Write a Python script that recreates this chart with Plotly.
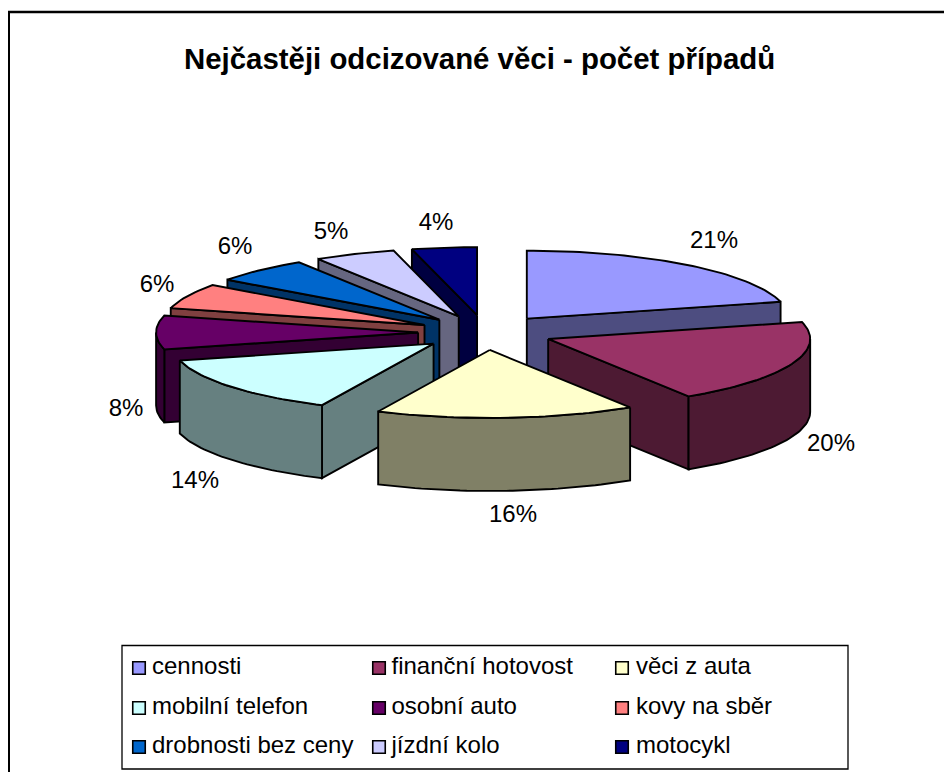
import math
import plotly.graph_objects as go

# --- data -----------------------------------------------------------------
categories = ["cennosti", "finanční hotovost", "věci z auta", "mobilní telefon",
              "osobní auto", "kovy na sběr", "drobnosti bez ceny", "jízdní kolo", "motocykl"]
values = [21, 20, 16, 14, 8, 6, 6, 5, 4]
top_colors = ["#9999FF", "#993366", "#FFFFCC", "#CCFFFF", "#660066",
              "#FF8080", "#0066CC", "#CCCCFF", "#000080"]
wall_colors = ["#4D4D80", "#4D1A33", "#808066", "#668080", "#330033",
               "#804040", "#003366", "#666680", "#000040"]
title_text = "Nejčastěji odcizované věci - počet případů"

# --- projection of the exploded 3-D pie (page pixels) ---------------------
CX, CY = 485.5, 332.5
EX, EY = 67.4, 17.5
RX, RY, LIFT = 262, 68, 0
DEPTH = 73
TWO_PI = 2 * math.pi


def rim(apex, ang):
    return apex[0] + RX * math.sin(ang), apex[1] - LIFT - RY * math.cos(ang)


def arc_points(apex, lo, hi):
    n = max(8, int((hi - lo) * 40))
    return [rim(apex, lo + (hi - lo) * k / n) for k in range(n + 1)]


def drop(p):
    return p[0], p[1] + DEPTH


fig = go.Figure()


def add_face(points, color, name=""):
    xs = [p[0] for p in points] + [points[0][0]]
    ys = [p[1] for p in points] + [points[0][1]]
    fig.add_trace(go.Scatter(x=xs, y=ys, mode="lines", fill="toself", fillcolor=color,
                             line=dict(color="black", width=1.9), hoverinfo="text",
                             text=name, showlegend=False))


total = sum(values)
slices = []
acc = 0
for i, v in enumerate(values):
    a0 = TWO_PI * acc / total
    a1 = TWO_PI * (acc + v) / total
    mid = (a0 + a1) / 2
    apex = (CX + EX * math.sin(mid), CY - EY * math.cos(mid))
    slices.append((apex[1], i, a0, a1, apex))
    acc += v

for _, i, a0, a1, apex in sorted(slices):
    # radial walls that face the viewer
    if math.sin(a0) < -1e-6:
        p = rim(apex, a0)
        add_face([apex, p, drop(p), drop(apex)], wall_colors[i])
    if math.sin(a1) > 1e-6:
        p = rim(apex, a1)
        add_face([apex, p, drop(p), drop(apex)], wall_colors[i])
    # outer wall: front half of the rim only
    lo, hi = max(a0, math.pi / 2), min(a1, 3 * math.pi / 2)
    if hi > lo:
        front = arc_points(apex, lo, hi)
        add_face(front + [drop(p) for p in reversed(front)], wall_colors[i])
    # top face
    add_face([apex] + arc_points(apex, a0, a1), top_colors[i],
             f"{categories[i]}: {values[i]}%")

# --- percentage labels ----------------------------------------------------
label_x = [714, 831, 513, 195, 126, 157, 235, 331, 436]
label_y = [242, 445, 516, 482, 410, 286, 248, 233, 224]
fig.add_trace(go.Scatter(x=label_x, y=label_y, mode="text",
                         text=[f"{v}%" for v in values], textposition="middle center",
                         textfont=dict(family="Liberation Sans", size=24, color="black"),
                         hoverinfo="skip", showlegend=False))

# --- legend box -----------------------------------------------------------
col_x = [139, 379, 622]
text_col_x = [152, 391.5, 636]
row_y = [668, 708, 747]
for i, name in enumerate(categories):
    fig.add_trace(go.Scatter(x=[col_x[i % 3]], y=[row_y[i // 3]], mode="markers",
                             marker=dict(symbol="square", size=12.5, color=top_colors[i],
                                         line=dict(color="black", width=1.6)),
                             hoverinfo="skip", showlegend=False))
    fig.add_trace(go.Scatter(x=[text_col_x[i % 3]], y=[row_y[i // 3]], mode="text",
                             text=[name], textposition="middle right",
                             textfont=dict(family="Liberation Sans", size=24, color="black"),
                             hoverinfo="skip", showlegend=False))

# body margin of the page is 8 px, so the figure covers page pixels 8..952 / 8..772
fig.update_layout(
    width=944, height=764, margin=dict(l=0, r=0, t=0, b=0),
    paper_bgcolor="white", plot_bgcolor="white", showlegend=False,
    xaxis=dict(range=[8, 952], visible=False, fixedrange=True),
    yaxis=dict(range=[772, 8], visible=False, fixedrange=True),
    annotations=[dict(x=479.5, y=58, xref="x", yref="y", text=f"<b>{title_text}</b>", showarrow=False,
                      font=dict(family="Liberation Sans", size=29.4, color="black"))],
    shapes=[
        dict(type="rect", x0=122, y0=645.5, x1=848, y1=769, line=dict(color="black", width=1.3),
             fillcolor="rgba(0,0,0,0)", layer="above"),
        dict(type="line", x0=8, y0=12, x1=952, y1=12, line=dict(color="black", width=2.6)),
        dict(type="line", x0=9, y0=12, x1=9, y1=772, line=dict(color="black", width=2)),
    ],
)
fig.write_html("out.html")
